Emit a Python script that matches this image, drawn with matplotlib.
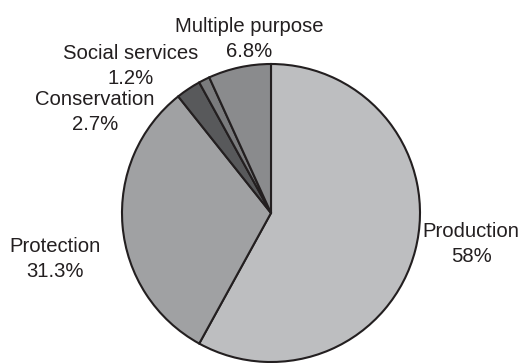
import matplotlib.pyplot as plt

# Shares of the pie, clockwise from 12 o'clock
labels = ['Production', 'Protection', 'Conservation', 'Social services', 'Multiple purpose']
shares = [58, 31.3, 2.7, 1.2, 6.8]
share_text = ['58%', '31.3%', '2.7%', '1.2%', '6.8%']
colors = ['#bdbec0', '#a0a1a3', '#58595b', '#7a7b7d', '#8a8b8d']

# label anchors in pixels: x centre, baseline of the last line (from the top)
label_pos = [(471, 262), (55, 277), (95, 130), (131, 84), (249, 57)]

W, H = 532, 363
plt.rcParams['font.family'] = ['Liberation Sans', 'DejaVu Sans']

fig = plt.figure(figsize=(W / 100, H / 100), dpi=100)
ax = fig.add_axes([0, 0, 1, 1])

ax.pie(shares, colors=colors, startangle=90, counterclock=False,
       center=(271, H - 213), radius=149,
       wedgeprops=dict(edgecolor='#231f20', linewidth=1.5))
ax.set_xlim(0, W)
ax.set_ylim(0, H)
ax.set_aspect('equal')
ax.axis('off')

for name, txt, (x, y) in zip(labels, share_text, label_pos):
    ax.text(x, H - y, f'{name}\n{txt}', ha='center', va='baseline',
            fontsize=14.6, color='#231f20', linespacing=1.42)

fig.savefig('out.png', dpi=100)
